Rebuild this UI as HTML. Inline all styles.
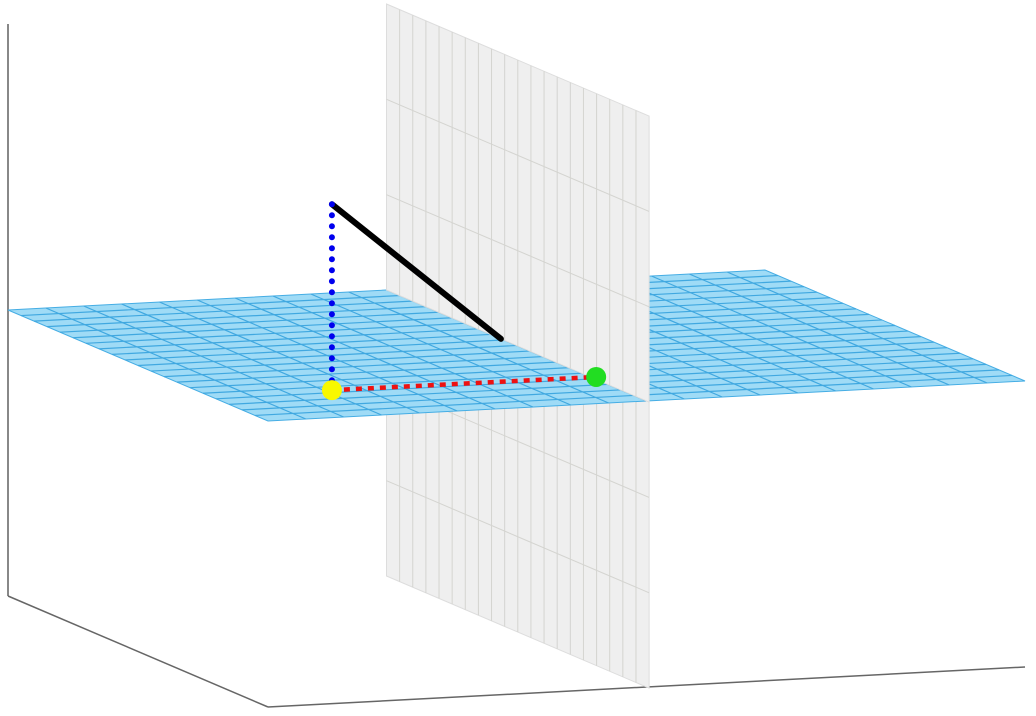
<!DOCTYPE html>
<html><head><meta charset="utf-8"><style>
html,body{margin:0;padding:0;background:#fff;}
svg{display:block;}
</style></head><body>
<svg id="chart" width="1036" height="716" viewBox="0 0 1036 716" xmlns="http://www.w3.org/2000/svg"></svg>
<script>
// 3D data (x: width 0..1, y: depth 0..1, z: height -1..1)
const pointYellow = [0.16, 0.78, 0];
const pointGreen = [0.507, 0.786, 0];
const pointTop = [0.16, 0.78, 0.65];
const blackEnd = [0.5, 0.44, 0];
const wallX = [0.5];
const gridCountsBlue = [20, 20];
const gridCountsWall = [20, 6];

const svg = document.getElementById('chart');
const NS = 'http://www.w3.org/2000/svg';
function P(x, y, z) { return [8 + 757 * x + 260 * y, 310 - 40 * x + 111 * y - 286 * z]; }
function pts(arr) { return arr.map(p => { const q = P(p[0], p[1], p[2]); return q[0].toFixed(1) + ',' + q[1].toFixed(1); }).join(' '); }
function mk(tag, attrs, name) {
  const e = document.createElementNS(NS, tag);
  for (const k in attrs) e.setAttribute(k, attrs[k]);
  
  
  svg.appendChild(e); return e;
}
function line(a, b, st, name) {
  const p = P(a[0], a[1], a[2]), q = P(b[0], b[1], b[2]);
  const e = document.createElementNS(NS, 'line');
  e.setAttribute('x1', p[0]); e.setAttribute('y1', p[1]); e.setAttribute('x2', q[0]); e.setAttribute('y2', q[1]);
  for (const k in st) e.setAttribute(k, st[k]);
  
  
  svg.appendChild(e); return e;
}
const wx = wallX[0];
// axis box
line([0,0,1],[0,0,-1],{stroke:'#888','stroke-width':2},'z-axis-line');
line([0,0,-1],[0,1,-1],{stroke:'#666','stroke-width':1.5},'y-axis-line');
line([0,1,-1],[1,1,-1],{stroke:'#666','stroke-width':1.5},'x-axis-line');

function wall(z0, z1, name) {
  mk('polygon', {points: pts([[wx,0,z1],[wx,1.01,z1],[wx,1.01,z0],[wx,0,z0]]), fill:'#efefef', stroke:'#ddd', 'stroke-width':1}, name);
  const nc = gridCountsWall[0], nr = gridCountsWall[1];
  for (let i = 1; i < nc; i++) { const y = 1.01 * i / nc; line([wx,y,z0],[wx,y,z1],{stroke:'#d4d4d0','stroke-width':1},'wall-grid-v'); }
  for (let j = 0; j <= nr; j++) { const z = -1 + 2 * j / nr; if (z > z0 + 0.001 && z < z1 - 0.001) line([wx,0,z],[wx,1.01,z],{stroke:'#d4d4d0','stroke-width':1},'wall-grid-h'); }
}
wall(-1, 0, 'gray-plane-lower');
// blue plane
mk('polygon', {points: pts([[0,0,0],[1,0,0],[1,1,0],[0,1,0]]), fill:'#9fdbf6', stroke:'#45ade4', 'stroke-width':1}, 'blue-plane');
for (let i = 1; i < gridCountsBlue[0]; i++) { const x = i / gridCountsBlue[0]; line([x,0,0],[x,1,0],{stroke:'#40a8e0','stroke-width':1.2},'blue-grid-line'); }
for (let j = 1; j < gridCountsBlue[1]; j++) { const y = j / gridCountsBlue[1]; line([0,y,0],[1,y,0],{stroke:'#40a8e0','stroke-width':1.2},'blue-grid-line'); }
wall(0, 1, 'gray-plane-upper');
// lines and points
line(pointTop, blackEnd, {stroke:'#000','stroke-width':6,'stroke-linecap':'round'}, 'black-segment');
line(pointTop, pointYellow, {stroke:'#0000ee','stroke-width':6,'stroke-dasharray':'0 11','stroke-linecap':'round'}, 'blue-dotted-line');
line(pointYellow, pointGreen, {stroke:'#ee1111','stroke-width':4.5,'stroke-dasharray':'6 6'}, 'red-dotted-line');
const py = P(pointYellow[0], pointYellow[1], pointYellow[2]);
mk('circle', {cx:py[0], cy:py[1], r:10, fill:'#f8f800'}, 'yellow-point');
const pg = P(pointGreen[0], pointGreen[1], pointGreen[2]);
mk('circle', {cx:pg[0], cy:pg[1], r:10, fill:'#22dd22'}, 'green-point');
</script>
</body></html>
